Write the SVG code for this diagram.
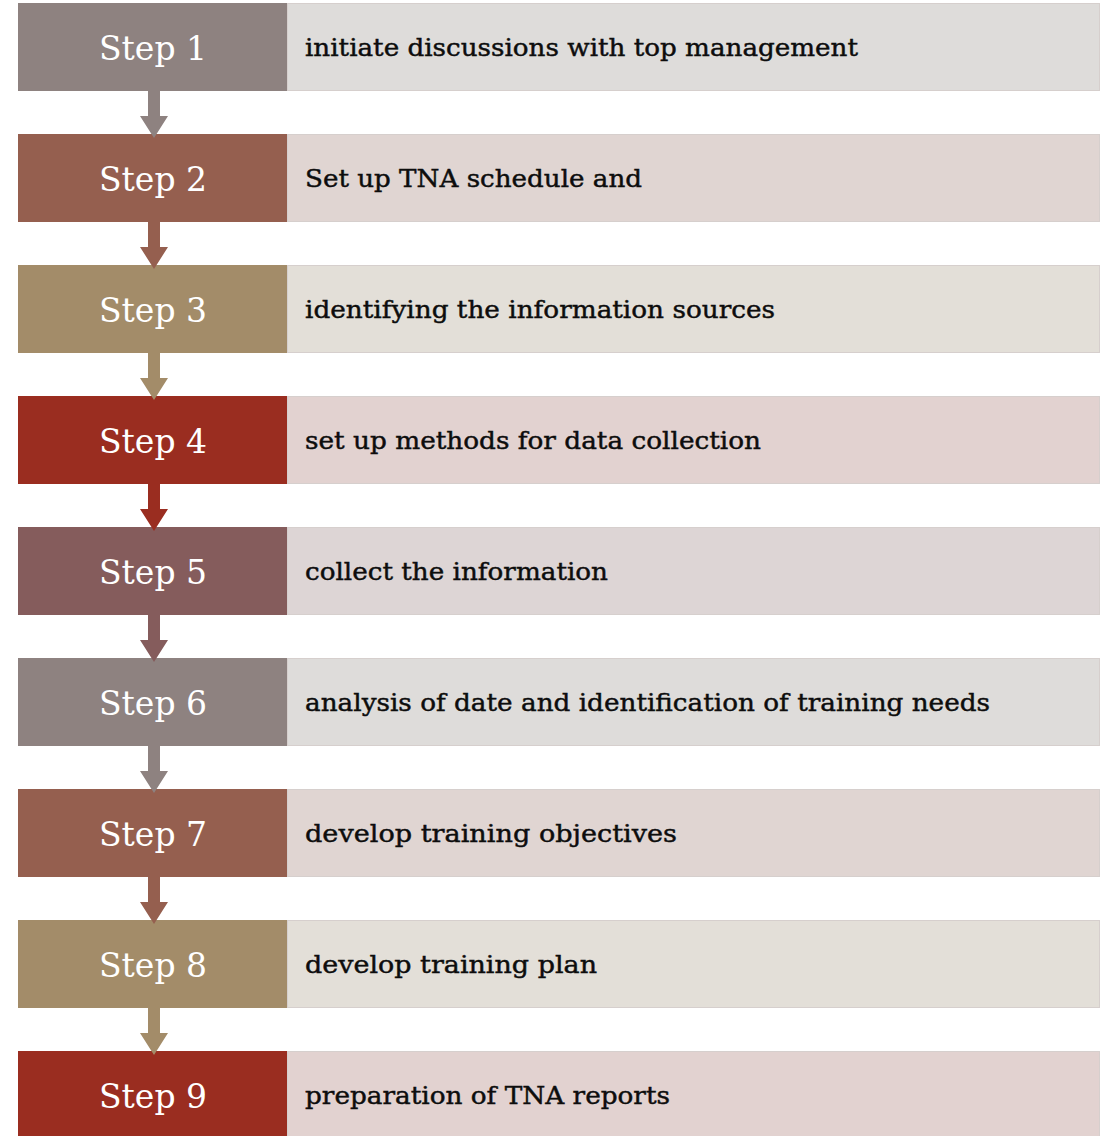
<svg xmlns="http://www.w3.org/2000/svg" width="1105" height="1136" viewBox="0 0 1105 1136">
  <defs>
    <style>
      .label { font-family: "DejaVu Serif", "Liberation Serif", serif; font-size: 33px; fill: #ffffff; text-anchor: middle; }
      .desc { font-family: "DejaVu Serif", "Liberation Serif", serif; font-size: 25px; fill: #0d0d0d; stroke: #0d0d0d; stroke-width: 0.45px; }
      .c1 { fill: #8E8280; } .l1 { fill: #DEDCDA; }
      .c2 { fill: #955F4F; } .l2 { fill: #E0D5D2; }
      .c3 { fill: #A38C69; } .l3 { fill: #E3DFD8; }
      .c4 { fill: #9A2D20; } .l4 { fill: #E2D2D0; }
      .c5 { fill: #855C5C; } .l5 { fill: #DDD5D5; }
      .l1, .l2, .l3, .l4, .l5 { stroke: #d6cfcd; stroke-width: 1px; }
    </style>
    <!-- down arrow: shaft plus triangular head, drawn from a box bottom edge -->
    <path id="arrow" d="M-6,0 H6 V25 H14 L0,47 L-14,25 H-6 Z"/>
  </defs>

  <!-- step rows -->
  <g id="step1">
    <rect class="l1" x="287.5" y="3.5" width="812" height="87"/>
    <rect class="c1" x="18" y="3" width="269" height="88"/>
    <text class="label" x="153" y="60">Step 1</text>
    <text class="desc" x="305" y="56" textLength="553" lengthAdjust="spacingAndGlyphs">initiate discussions with top management</text>
  </g>
  <g id="step2">
    <rect class="l2" x="287.5" y="134.5" width="812" height="87"/>
    <rect class="c2" x="18" y="134" width="269" height="88"/>
    <text class="label" x="153" y="191">Step 2</text>
    <text class="desc" x="305" y="187" textLength="337" lengthAdjust="spacingAndGlyphs">Set up TNA schedule and</text>
  </g>
  <g id="step3">
    <rect class="l3" x="287.5" y="265.5" width="812" height="87"/>
    <rect class="c3" x="18" y="265" width="269" height="88"/>
    <text class="label" x="153" y="322">Step 3</text>
    <text class="desc" x="305" y="318" textLength="470" lengthAdjust="spacingAndGlyphs">identifying the information sources</text>
  </g>
  <g id="step4">
    <rect class="l4" x="287.5" y="396.5" width="812" height="87"/>
    <rect class="c4" x="18" y="396" width="269" height="88"/>
    <text class="label" x="153" y="453">Step 4</text>
    <text class="desc" x="305" y="449" textLength="456" lengthAdjust="spacingAndGlyphs">set up methods for data collection</text>
  </g>
  <g id="step5">
    <rect class="l5" x="287.5" y="527.5" width="812" height="87"/>
    <rect class="c5" x="18" y="527" width="269" height="88"/>
    <text class="label" x="153" y="584">Step 5</text>
    <text class="desc" x="305" y="580" textLength="303" lengthAdjust="spacingAndGlyphs">collect the information</text>
  </g>
  <g id="step6">
    <rect class="l1" x="287.5" y="658.5" width="812" height="87"/>
    <rect class="c1" x="18" y="658" width="269" height="88"/>
    <text class="label" x="153" y="715">Step 6</text>
    <text class="desc" x="305" y="711" textLength="685" lengthAdjust="spacingAndGlyphs">analysis of date and identification of training needs</text>
  </g>
  <g id="step7">
    <rect class="l2" x="287.5" y="789.5" width="812" height="87"/>
    <rect class="c2" x="18" y="789" width="269" height="88"/>
    <text class="label" x="153" y="846">Step 7</text>
    <text class="desc" x="305" y="842" textLength="372" lengthAdjust="spacingAndGlyphs">develop training objectives</text>
  </g>
  <g id="step8">
    <rect class="l3" x="287.5" y="920.5" width="812" height="87"/>
    <rect class="c3" x="18" y="920" width="269" height="88"/>
    <text class="label" x="153" y="977">Step 8</text>
    <text class="desc" x="305" y="973" textLength="292" lengthAdjust="spacingAndGlyphs">develop training plan</text>
  </g>
  <g id="step9">
    <rect class="l4" x="287.5" y="1051.5" width="812" height="87"/>
    <rect class="c4" x="18" y="1051" width="269" height="88"/>
    <text class="label" x="153" y="1108">Step 9</text>
    <text class="desc" x="305" y="1104" textLength="365" lengthAdjust="spacingAndGlyphs">preparation of TNA reports</text>
  </g>

  <!-- connectors between consecutive steps -->
  <g id="connectors">
    <use href="#arrow" class="c1" x="154" y="91"/>
    <use href="#arrow" class="c2" x="154" y="222"/>
    <use href="#arrow" class="c3" x="154" y="353"/>
    <use href="#arrow" class="c4" x="154" y="484"/>
    <use href="#arrow" class="c5" x="154" y="615"/>
    <use href="#arrow" class="c1" x="154" y="746"/>
    <use href="#arrow" class="c2" x="154" y="877"/>
    <use href="#arrow" class="c3" x="154" y="1008"/>
  </g>
</svg>
